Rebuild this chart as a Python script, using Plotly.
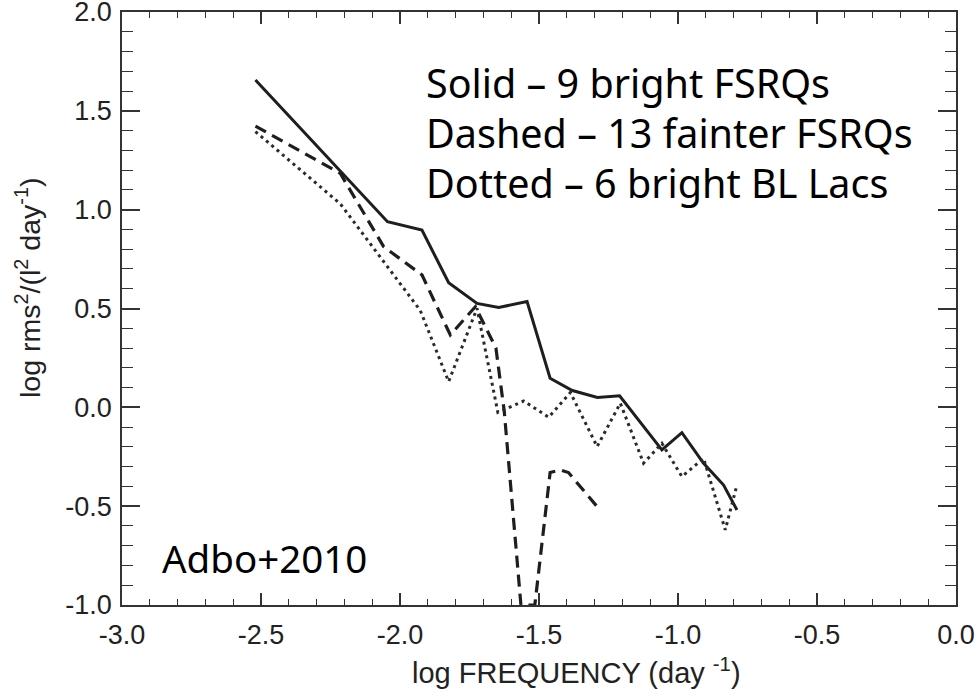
import plotly.graph_objects as go

# Solid - 9 bright FSRQs
solid_x = [-2.52, -2.045, -1.921, -1.825, -1.723, -1.645, -1.543, -1.46, -1.38, -1.29, -1.21, -1.058, -0.986, -0.908, -0.836, -0.788]
solid_y = [1.656, 0.939, 0.897, 0.63, 0.526, 0.505, 0.535, 0.147, 0.085, 0.05, 0.058, -0.215, -0.128, -0.283, -0.393, -0.519]

# Dashed - 13 fainter FSRQs
dashed_x = [-2.52, -2.215, -2.059, -1.921, -1.819, -1.729, -1.655, -1.625, -1.565, -1.515, -1.46, -1.423, -1.394, -1.291]
dashed_y = [1.423, 1.184, 0.813, 0.670, 0.366, 0.509, 0.30, -0.02, -1.0, -1.0, -0.33, -0.317, -0.33, -0.502]

# Dotted - 6 bright BL Lacs
dotted_x = [-2.52, -2.215, -1.927, -1.825, -1.723, -1.648, -1.555, -1.465, -1.387, -1.291, -1.2075, -1.124, -1.058, -0.986, -0.908, -0.830, -0.788]
dotted_y = [1.395, 1.03, 0.49, 0.13, 0.501, -0.025, 0.032, -0.05, 0.075, -0.199, 0.021, -0.283, -0.182, -0.35, -0.258, -0.62, -0.393]

x_ticks = [-3.0, -2.5, -2.0, -1.5, -1.0, -0.5, 0.0]
y_ticks = [-1.0, -0.5, 0.0, 0.5, 1.0, 1.5, 2.0]
x_range = [-3.0, 0.0]
y_range = [-1.0, 2.0]

legend_lines = ["Solid \u2013 9 bright FSRQs", "Dashed \u2013 13 fainter FSRQs", "Dotted \u2013 6 bright BL Lacs"]
note_text = "Adbo+2010"

ink = "#1e1e1e"
axc = "#333333"
fig = go.Figure()
fig.add_trace(go.Scatter(x=solid_x, y=solid_y, mode="lines",
                         line=dict(color=ink, width=3)))
fig.add_trace(go.Scatter(x=dashed_x, y=dashed_y, mode="lines",
                         line=dict(color=ink, width=3.2, dash="12px,7px")))
fig.add_trace(go.Scatter(x=dotted_x, y=dotted_y, mode="lines",
                         line=dict(color="#2a2a2a", width=3, dash="3px,4px")))
# invisible trace to activate the mirror (top/right) axes
fig.add_trace(go.Scatter(x=x_range, y=y_range, xaxis="x2", yaxis="y2", mode="lines",
                         line=dict(width=0), opacity=0, hoverinfo="skip"))

W, H = 979, 696
L, R, T, B = 122, 956, 12, 605

tick_font = dict(family="Liberation Sans, Arial", size=27, color="#222222")

def axis(rng, vals, major_len, minor_len, tick0, labels, **kw):
    d = dict(range=rng, tickmode="array", tickvals=vals,
             ticktext=["%.1f" % v for v in vals] if labels else None,
             showticklabels=labels, automargin=False,
             showline=True, linecolor=axc, linewidth=1.6, mirror=False,
             ticks="inside", ticklen=major_len, tickcolor=axc, tickwidth=1.6,
             minor=dict(tickmode="linear", dtick=0.1, tick0=tick0, ticks="inside",
                        ticklen=minor_len, tickcolor=axc, tickwidth=1.4, showgrid=False),
             showgrid=False, zeroline=False, ticklabeloverflow="allow",
             tickfont=tick_font)
    d.update(kw)
    return d

fig.update_layout(
    width=W, height=H,
    margin=dict(l=L, r=W - R, t=T, b=H - B, pad=0, autoexpand=False),
    paper_bgcolor="white", plot_bgcolor="white",
    showlegend=False,
    xaxis=axis(x_range, x_ticks, 12, 6, -3.0, True, ticklabelstandoff=5, side="bottom"),
    yaxis=axis(y_range, y_ticks, 18, 11, -1.0, True, ticklabelstandoff=3, side="left"),
    xaxis2=axis(x_range, x_ticks, 12, 6, -3.0, False, overlaying="x", side="top", anchor="y"),
    yaxis2=axis(y_range, y_ticks, 18, 11, -1.0, False, overlaying="y", side="right", anchor="x"),
)

def px_to_paper(px, py):
    return (px - L) / (R - L), (B - py) / (B - T)

text_font = dict(family="Noto Sans, Open Sans, DejaVu Sans", size=39.5, color="black")
for i, line in enumerate(legend_lines):
    xp, yp = px_to_paper(424, 83 + 50 * i)
    fig.add_annotation(x=xp, y=yp, xref="paper", yref="paper", text=line, showarrow=False,
                       xanchor="left", yanchor="middle", font=text_font)

xp, yp = px_to_paper(160, 558)
fig.add_annotation(x=xp, y=yp, xref="paper", yref="paper", text=note_text, showarrow=False,
                   xanchor="left", yanchor="middle",
                   font=dict(family="Noto Sans, Open Sans, DejaVu Sans", size=38.5, color="black"))

# axis titles
xp, yp = px_to_paper(576, 671)
fig.add_annotation(x=xp, y=yp, xref="paper", yref="paper",
                   text="log FREQUENCY (day <sup>-1</sup>)", showarrow=False,
                   xanchor="center", yanchor="middle",
                   font=dict(family="Liberation Sans, Arial", size=29, color="#222222"))
xp, yp = px_to_paper(28, 288)
fig.add_annotation(x=xp, y=yp, xref="paper", yref="paper",
                   text="log rms<sup>2</sup>/(l<sup>2</sup> day<sup>-1</sup>)", showarrow=False,
                   textangle=-90, xanchor="center", yanchor="middle",
                   font=dict(family="Liberation Sans, Arial", size=28.5, color="#222222"))

fig.write_html("out.html")
